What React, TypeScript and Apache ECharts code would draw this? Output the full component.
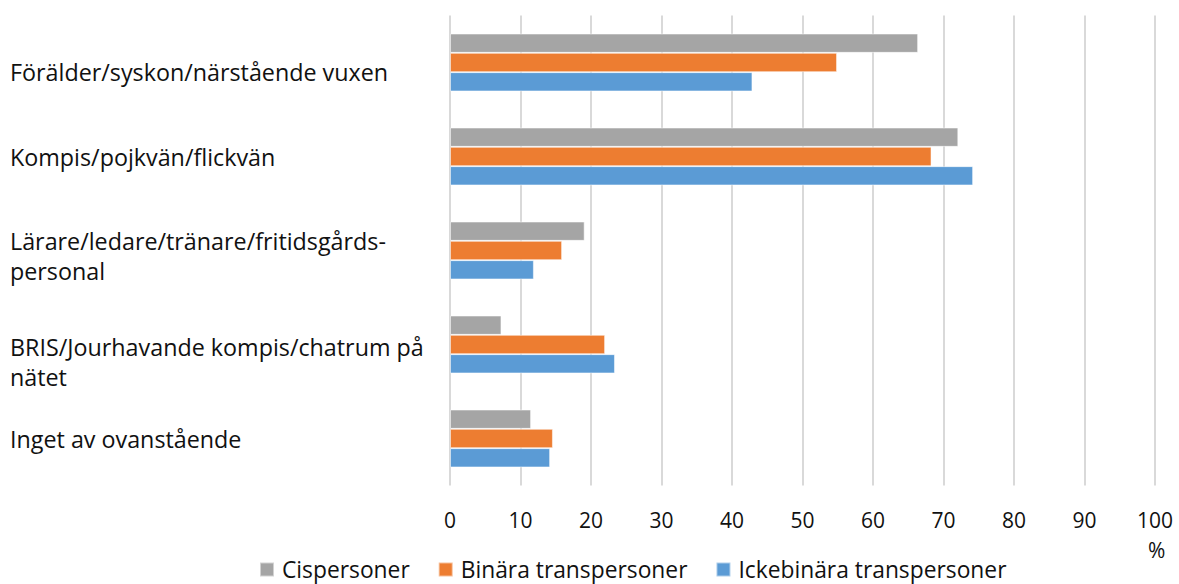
import React, { useEffect, useRef } from "react";
import * as echarts from "echarts";

const categories = [
  "Förälder/syskon/närstående vuxen",
  "Kompis/pojkvän/flickvän",
  "Lärare/ledare/tränare/fritidsgårds-\npersonal",
  "BRIS/Jourhavande kompis/chatrum på\nnätet",
  "Inget av ovanstående",
];
const labelShift = [18, 0, 10, 34, 0];
const seriesNames = ["Cispersoner", "Binära transpersoner", "Ickebinära transpersoner"];
const cispersoner = [66.4, 72.1, 19.1, 7.3, 11.5];
const binara = [54.9, 68.3, 15.9, 22.0, 14.6];
const ickebinara = [42.9, 74.2, 11.9, 23.4, 14.2];
const colors = ["#A5A5A5", "#ED7D31", "#5B9BD5"];
const FONT = "Open Sans";
const TXT = "#111";

export default function App() {
  const ref = useRef<HTMLDivElement>(null);
  useEffect(() => {
    if (!ref.current) return;
    const chart = echarts.init(ref.current, undefined, { renderer: "svg" });
    const data = [cispersoner, binara, ickebinara];
    const rich: Record<string, any> = {
      t: { fontFamily: FONT, fontSize: 23.3, lineHeight: 30, color: TXT },
    };
    labelShift.forEach((s, i) => {
      rich["s" + i] = { fontSize: 1, lineHeight: s };
    });
    chart.setOption({
      animation: false,
      grid: {
        left: 450,
        right: 24,
        top: 15.5,
        bottom: 98.5,
        containLabel: false,
        outerBoundsMode: "none",
      },
      legend: {
        top: 558,
        left: 259,
        padding: 0,
        itemWidth: 14,
        itemHeight: 14,
        itemGap: 28,
        icon: "rect",
        textStyle: {
          fontFamily: FONT,
          fontSize: 22.8,
          lineHeight: 22,
          color: TXT,
          padding: [0, 0, 0, 3],
        },
        data: seriesNames,
      },
      xAxis: {
        type: "value",
        min: 0,
        max: 100,
        interval: 10,
        axisLine: { show: false },
        axisTick: { show: false },
        splitLine: { show: true, lineStyle: { color: "#D9D9D9", width: 2 } },
        axisLabel: { fontFamily: FONT, fontSize: 21, color: TXT, margin: 24 },
      },
      yAxis: {
        type: "category",
        data: categories,
        inverse: true,
        axisLine: { show: false },
        axisTick: { show: false },
        axisLabel: {
          interval: 0,
          align: "left",
          margin: 440,
          fontFamily: FONT,
          fontSize: 23,
          color: TXT,
          formatter: (value: string, index: number) => {
            const body = value
              .split("\n")
              .map((l) => `{t|${l}}`)
              .join("\n");
            return labelShift[index] > 0 ? `{s${index}|\u00a0}\n${body}` : body;
          },
          rich,
        },
      },
      graphic: [
        {
          type: "text",
          left: 1148,
          top: 539,
          style: { text: "%", fontFamily: FONT, fontSize: 21, fill: TXT },
        },
      ],
      series: seriesNames.map((name, i) => ({
        name,
        type: "bar",
        data: data[i],
        barWidth: 19.3,
        barGap: "0%",
        itemStyle: { color: colors[i], borderColor: "rgba(255,255,255,0.5)", borderWidth: 1 },
      })),
    });
    return () => chart.dispose();
  }, []);
  return <div ref={ref} style={{ width: 1179, height: 584, position: "absolute", left: 0, top: 0 }} />;
}
